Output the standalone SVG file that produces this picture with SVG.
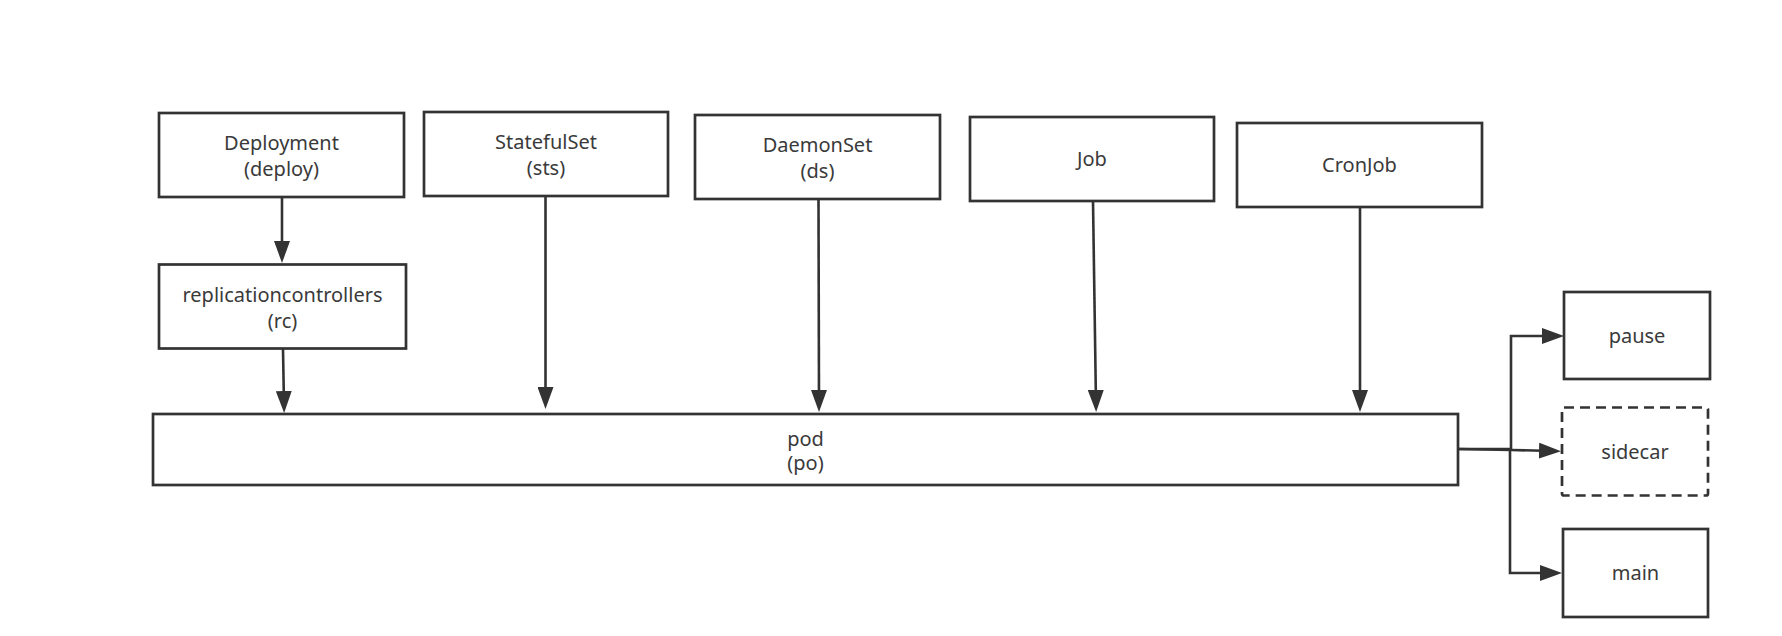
<svg xmlns="http://www.w3.org/2000/svg" width="1782" height="636" viewBox="0 0 1782 636">
<style>
.box{fill:#fff;stroke:#333;stroke-width:2.7}
.dash{fill:#fff;stroke:#333;stroke-width:2.7;stroke-dasharray:10 6}
.t{font-family:"Noto Sans","Open Sans","Liberation Sans",sans-serif;font-size:20px;fill:#3a3a3a;text-anchor:middle}
.c{fill:none;stroke:#333;stroke-width:2.6;marker-end:url(#ah)}
.cn{fill:none;stroke:#333;stroke-width:2.6}
</style>
<defs>
<marker id="ah" markerUnits="userSpaceOnUse" markerWidth="22" markerHeight="16" viewBox="0 0 22 16" refX="14" refY="8" orient="auto">
<path d="M0,0 L22,8 L0,16 z" fill="#333"/>
</marker>
</defs>
<rect width="1782" height="636" fill="#fff"/>
<g id="connectors">
<path class="c" d="M282,197 V255"/>
<path class="c" d="M283,349 L284,405"/>
<path class="c" d="M545.5,196 V401"/>
<path class="c" d="M818.5,199 L819,404"/>
<path class="c" d="M1093,201 L1096,404"/>
<path class="c" d="M1360,207 V404"/>
<path class="c" d="M1458,449 H1511 V336 H1556"/>
<path class="c" d="M1458,449 L1511,450 L1553,451"/>
<path class="c" d="M1510,450 V573 H1554"/>
</g>
<g id="deployment">
<rect class="box" x="159" y="113" width="245" height="84"/>
<text class="t" x="281.5" y="150">Deployment</text>
<text class="t" x="281.5" y="176">(deploy)</text>
</g>
<g id="statefulset">
<rect class="box" x="424" y="112" width="244" height="84"/>
<text class="t" x="546" y="149">StatefulSet</text>
<text class="t" x="546" y="175">(sts)</text>
</g>
<g id="daemonset">
<rect class="box" x="695" y="115" width="245" height="84"/>
<text class="t" x="817.5" y="152">DaemonSet</text>
<text class="t" x="817.5" y="178">(ds)</text>
</g>
<g id="job">
<rect class="box" x="970" y="117" width="244" height="84"/>
<text class="t" x="1092" y="166">Job</text>
</g>
<g id="cronjob">
<rect class="box" x="1237" y="123" width="245" height="84"/>
<text class="t" x="1359.5" y="172">CronJob</text>
</g>
<g id="rc">
<rect class="box" x="159" y="264.5" width="247" height="84"/>
<text class="t" x="282.5" y="301.5">replicationcontrollers</text>
<text class="t" x="282.5" y="327.5">(rc)</text>
</g>
<g id="pod">
<rect class="box" x="153" y="414" width="1305" height="71"/>
<text class="t" x="805.5" y="446">pod</text>
<text class="t" x="805.5" y="470">(po)</text>
</g>
<g id="pause">
<rect class="box" x="1564" y="292" width="146" height="87"/>
<text class="t" x="1637" y="343">pause</text>
</g>
<g id="sidecar">
<rect class="dash" x="1562" y="407.5" width="146" height="88" rx="2"/>
<text class="t" x="1635" y="459">sidecar</text>
</g>
<g id="main">
<rect class="box" x="1563" y="529" width="145" height="88"/>
<text class="t" x="1635.5" y="580">main</text>
</g>
</svg>
